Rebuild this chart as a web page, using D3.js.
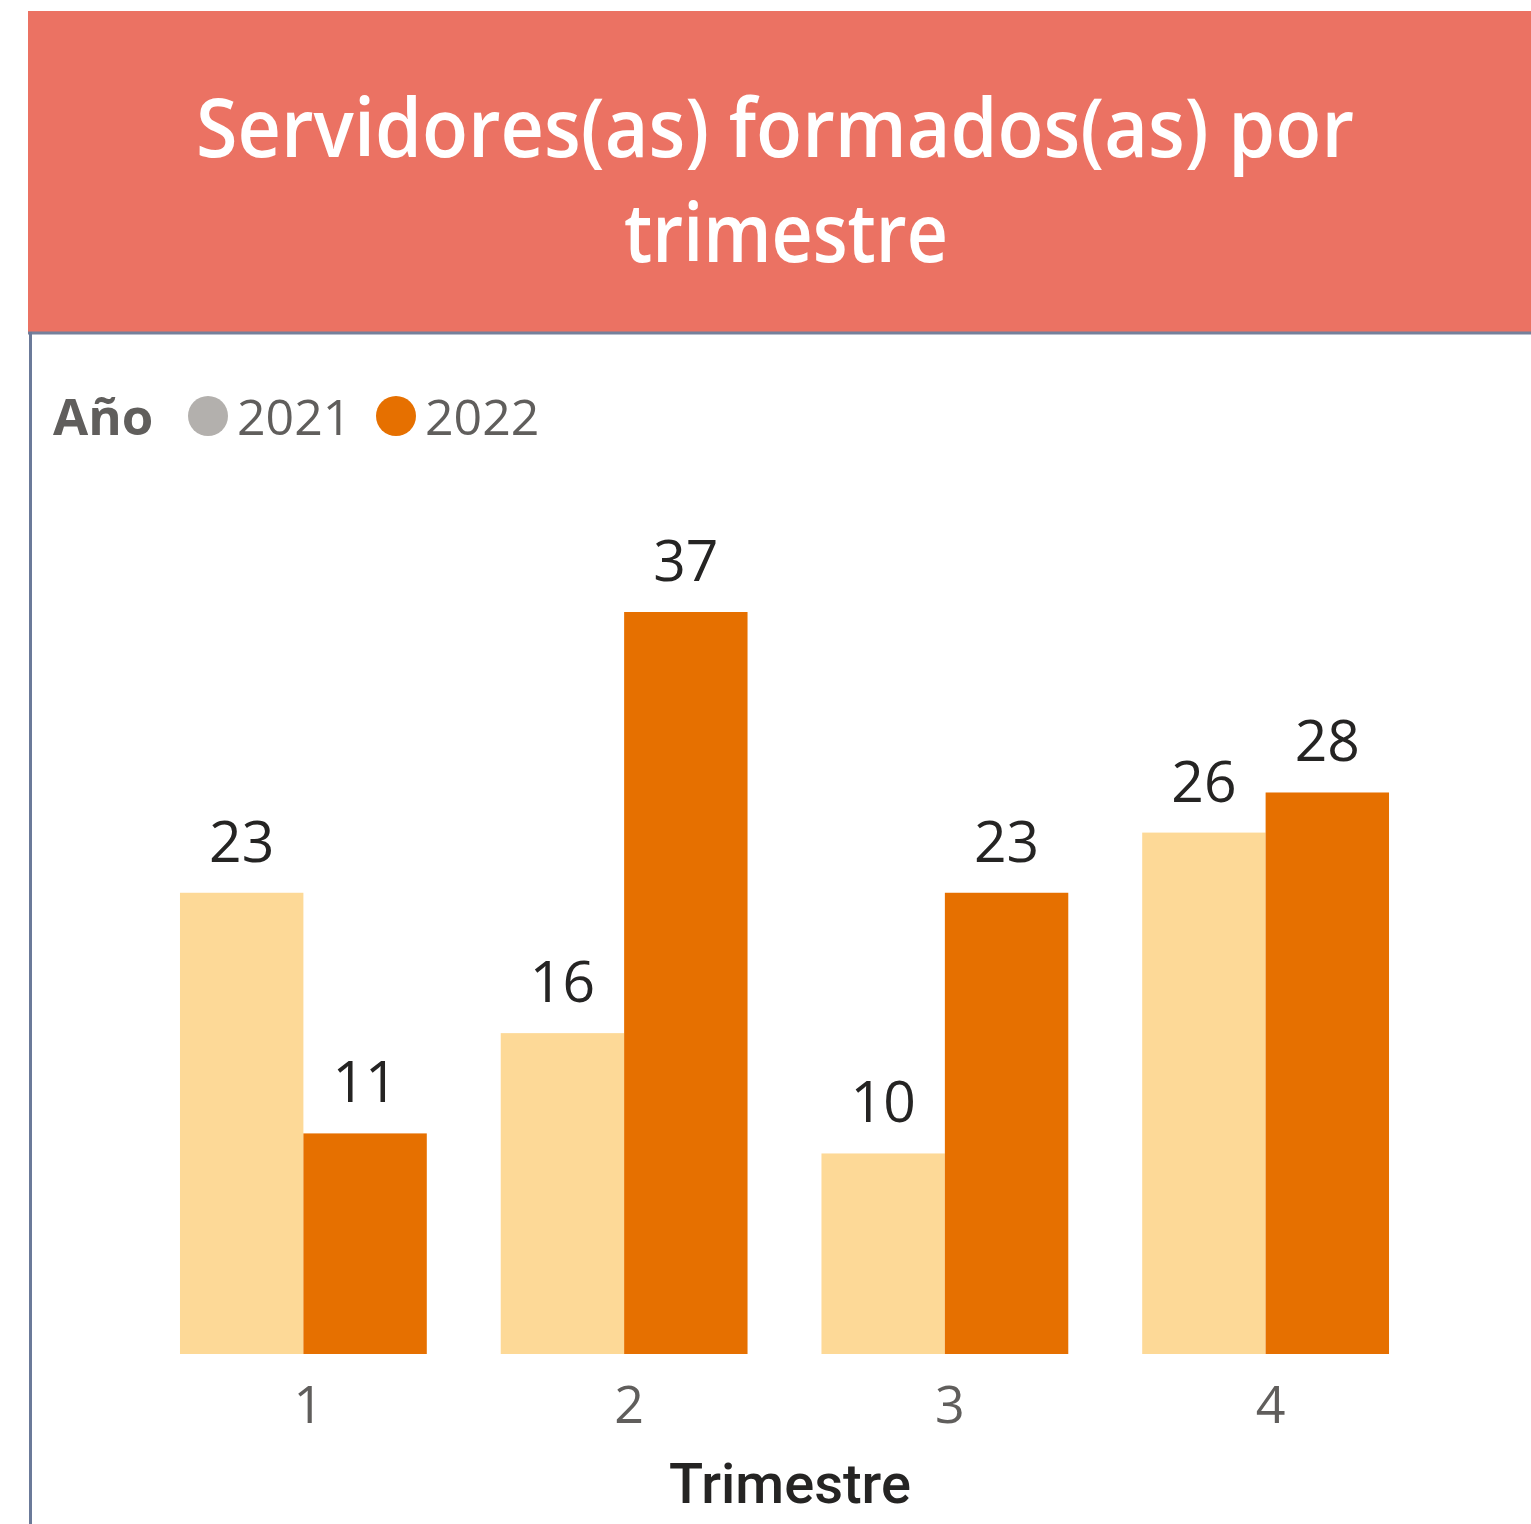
<!DOCTYPE html>
<html>
<head>
<meta charset="utf-8">
<script src="https://cdn.jsdelivr.net/npm/d3@7"></script>
<style>
  html, body { margin: 0; padding: 0; background: #ffffff; }
  svg { display: block; }
</style>
</head>
<body>
<svg id="chart" width="1531" height="1524"></svg>
<script>
// Quarterly counts of trained public servants, by year
const quarters = ["1", "2", "3", "4"];
const years = ["2021", "2022"];
const values2021 = [23, 16, 10, 26];
const values2022 = [11, 37, 23, 28];
const titleLines = ["Servidores(as) formados(as) por", "trimestre"];
const legendTitle = "Año";
const axisTitle = "Trimestre";

const barColors = { "2021": "#FDD997", "2022": "#E67000" };
const legendColors = { "2021": "#B3B0AD", "2022": "#E67000" };

const rows = quarters.map((q, i) => ({
  quarter: q,
  bars: [
    { year: "2021", value: values2021[i] },
    { year: "2022", value: values2022[i] }
  ]
}));

const svg = d3.select("#chart");
const font = "'Segoe UI', 'Open Sans', 'Noto Sans', sans-serif";

// Header banner
svg.append("rect")
  .attr("x", 28).attr("y", 11)
  .attr("width", 1503).attr("height", 321)
  .attr("fill", "#EB7263");

// Title lines, each fitted to its box width
const titleBoxes = [
  { x: 196, y: 157, w: 1158 },
  { x: 624, y: 262, w: 324 }
];
svg.append("g")
  .selectAll("text")
  .data(titleLines)
  .join("text")
  .attr("x", (d, i) => titleBoxes[i].x)
  .attr("y", (d, i) => titleBoxes[i].y)
  .attr("textLength", (d, i) => titleBoxes[i].w)
  .attr("lengthAdjust", "spacingAndGlyphs")
  .attr("font-family", font)
  .attr("font-size", 81)
  .attr("font-weight", 600)
  .attr("fill", "#ffffff")
  .text(d => d);

// Visual frame: top and left borders
svg.append("line")
  .attr("x1", 28).attr("x2", 1531)
  .attr("y1", 333).attr("y2", 333)
  .attr("stroke", "#75809B").attr("stroke-width", 3);
svg.append("line")
  .attr("x1", 30.5).attr("x2", 30.5)
  .attr("y1", 332).attr("y2", 1524)
  .attr("stroke", "#6B7A99").attr("stroke-width", 3);

// Legend
const legend = svg.append("g").attr("font-family", font);
legend.append("text")
  .attr("x", 53).attr("y", 435)
  .attr("font-size", 51)
  .attr("font-weight", 700)
  .attr("fill", "#605E5C")
  .text(legendTitle);

const legendX = { "2021": 208, "2022": 396 };
const legendItems = legend.selectAll("g.item")
  .data(years)
  .join("g")
  .attr("class", "item")
  .attr("transform", d => `translate(${legendX[d]},416)`);
legendItems.append("circle")
  .attr("r", 20)
  .attr("fill", d => legendColors[d]);
legendItems.append("text")
  .attr("x", 29).attr("y", 19)
  .attr("font-size", 50)
  .attr("fill", "#605E5C")
  .text(d => d);

// Scales
const x0 = d3.scaleBand()
  .domain(quarters)
  .range([143, 1426])
  .paddingInner(0.2305)
  .paddingOuter(0.1153);

const x1 = d3.scaleBand()
  .domain(years)
  .range([0, x0.bandwidth()])
  .padding(0);

const y = d3.scaleLinear()
  .domain([0, 37])
  .range([1354, 612]);

// Bars and data labels
const groups = svg.append("g")
  .selectAll("g.quarter")
  .data(rows)
  .join("g")
  .attr("class", "quarter")
  .attr("transform", d => `translate(${x0(d.quarter)},0)`);

groups.selectAll("rect")
  .data(d => d.bars)
  .join("rect")
  .attr("x", d => x1(d.year))
  .attr("y", d => y(d.value))
  .attr("width", x1.bandwidth())
  .attr("height", d => y(0) - y(d.value))
  .attr("fill", d => barColors[d.year]);

groups.selectAll("text")
  .data(d => d.bars)
  .join("text")
  .attr("x", d => x1(d.year) + x1.bandwidth() / 2)
  .attr("y", d => y(d.value) - 31)
  .attr("text-anchor", "middle")
  .attr("font-family", font)
  .attr("font-size", 57)
  .attr("fill", "#252423")
  .text(d => d.value);

// Category axis
const xAxis = svg.append("g")
  .attr("transform", `translate(0,${y(0)})`)
  .call(d3.axisBottom(x0).tickSize(0));
xAxis.select(".domain").remove();
xAxis.selectAll("text")
  .attr("x", 5)
  .attr("y", 69)
  .attr("dy", 0)
  .attr("font-family", font)
  .attr("font-size", 52)
  .attr("fill", "#605E5C");

svg.append("text")
  .attr("x", 790)
  .attr("y", 1503)
  .attr("text-anchor", "middle")
  .attr("font-family", "Roboto, 'DejaVu Sans Condensed', sans-serif")
  .attr("font-size", 56)
  .attr("font-weight", 500)
  .attr("fill", "#252423")
  .text(axisTitle);
</script>
</body>
</html>
